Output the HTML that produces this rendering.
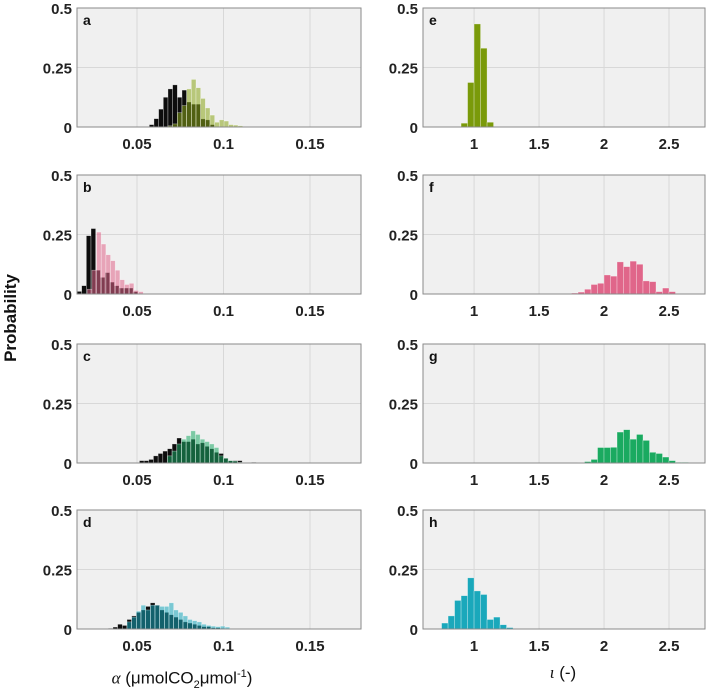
<!DOCTYPE html>
<html><head><meta charset="utf-8"><style>
body{margin:0;background:#fff;}
svg{display:block;font-family:"Liberation Sans",Arial,sans-serif;}
</style></head><body>
<svg id="fig" width="709" height="692"></svg>
<script>
// ---- data ----
const leftTicks=[0.05,0.1,0.15];
const leftTickLabels=["0.05","0.1","0.15"];
const rightTicks=[1,1.5,2,2.5];
const rightTickLabels=["1","1.5","2","2.5"];
const yTicks=[0,0.25,0.5];
const yTickLabels=["0","0.25","0.5"];
const panelLetters=["a","b","c","d","e","f","g","h"];
const panelColors=["#8aa51a","#e0668a","#1eaa66","#1aa8bb","#7a9a0a","#e0668a","#1aaa60","#1aa8bb"];
const aBlackStart=0.0571, aBlackWidth=0.0027;
const aBlack=[0.01,0.035,0.075,0.125,0.16,0.177,0.125,0.155,0.105,0.096,0.096,0.034,0.03,0.01];
const aColStart=0.0679, aColWidth=0.0027;
const aCol=[0.005,0.013,0.06,0.09,0.16,0.2,0.165,0.12,0.08,0.05,0.02,0.03,0.025,0.01,0.008,0.005];
const bBlackStart=0.0153, bBlackWidth=0.0027;
const bBlack=[0.011,0.035,0.245,0.275,0.1,0.07,0.09,0.05,0.035,0.025,0.025,0.025,0.01];
const bColStart=0.0212, bColWidth=0.0027;
const bCol=[0.02,0.1,0.26,0.21,0.165,0.14,0.1,0.06,0.04,0.045,0.015,0.01];
const cBlackStart=0.0514, cBlackWidth=0.0027;
const cBlack=[0.01,0.01,0.015,0.03,0.04,0.05,0.06,0.08,0.105,0.09,0.09,0.1,0.08,0.085,0.07,0.06,0.045,0.04,0.02,0.01,0.01,0.01,0,0,0.003];
const cColStart=0.0676, cColWidth=0.0027;
const cCol=[0.03,0.05,0.08,0.1,0.115,0.135,0.12,0.1,0.09,0.08,0.065,0.03,0.02,0.01,0.008,0.003];
const dBlackStart=0.0334, dBlackWidth=0.0027;
const dBlack=[0.003,0.008,0.02,0.015,0.04,0.055,0.07,0.08,0.095,0.11,0.1,0.08,0.07,0.06,0.05,0.04,0.03,0.025,0.02,0.015,0.01,0.01,0.005,0.005,0.003];
const dColStart=0.0442, dColWidth=0.0027;
const dCol=[0.03,0.05,0.075,0.1,0.08,0.1,0.1,0.095,0.095,0.11,0.08,0.07,0.055,0.04,0.035,0.03,0.02,0.015,0.012,0.01,0.012,0.008];
const eStart=0.9, eWidth=0.05;
const eVals=[0.016,0.187,0.433,0.331,0.02];
const fStart=1.75, fWidth=0.05;
const fVals=[0.004,0.008,0.02,0.04,0.045,0.08,0.075,0.135,0.115,0.138,0.125,0.055,0.052,0.01,0.025,0.01];
const gStart=1.8, gWidth=0.05;
const gVals=[0.002,0.006,0.015,0.065,0.065,0.066,0.13,0.14,0.1,0.12,0.095,0.045,0.04,0.025,0.01,0.003,0.003];
const hStart=0.75, hWidth=0.05;
const hVals=[0.025,0.055,0.12,0.14,0.215,0.16,0.145,0.04,0.05,0.018,0.006];

const NS="http://www.w3.org/2000/svg";
const svg=document.getElementById('fig');
const tops=[8,175,344,510], H=119;
const L={x0:77,x1:361,min:0.0153,max:0.1795};
const R={x0:423,x1:705,min:0.607,max:2.777};
function mk(tag,attrs,parent){const e=document.createElementNS(NS,tag);for(const k in attrs)e.setAttribute(k,attrs[k]);(parent||svg).appendChild(e);return e;}
function xScale(ax,v){return ax.x0+(v-ax.min)/(ax.max-ax.min)*(ax.x1-ax.x0);}
function yScale(top,v){return top+H-v/0.5*H;}

function drawAxes(ax,top,idx,ticks,tickLabels){
  const g=mk('g',{});
  
  
  const bg=mk('rect',{x:ax.x0,y:top,width:ax.x1-ax.x0,height:H,fill:'#f0f0f0'},g);
  
  
  ticks.forEach((t,i)=>{
    const x=xScale(ax,t);
    const gl=mk('line',{x1:x,x2:x,y1:top,y2:top+H,stroke:'#d8d8d8','stroke-width':1},g);
    
    
    const tl=mk('text',{x:x,y:top+H+22,'text-anchor':'middle','font-size':15,'font-weight':'bold',fill:'#222'},g);
    tl.textContent=tickLabels[i];
    
    
  });
  yTicks.forEach((t,i)=>{
    const y=yScale(top,t);
    if(t>0&&t<0.5){const gl=mk('line',{x1:ax.x0,x2:ax.x1,y1:y,y2:y,stroke:'#d8d8d8','stroke-width':1},g);
      
      }
    const tl=mk('text',{x:ax.x0-5,y:y+6,'text-anchor':'end','font-size':15,'font-weight':'bold',fill:'#222'},g);
    tl.textContent=yTickLabels[i];
    
    
  });
  return g;
}
function drawBars(ax,top,g,start,width,vals,fill,op,name){
  vals.forEach((v,i)=>{
    if(v<=0)return;
    const xa=xScale(ax,start+i*width), xb=xScale(ax,start+(i+1)*width);
    const y=yScale(top,v);
    const r=mk('rect',{x:xa,y:y,width:xb-xa,height:top+H-y,fill:fill,'fill-opacity':op,stroke:'#ffffff','stroke-opacity':0.5,'stroke-width':0.6},g);
    
    
  });
}
function frame(ax,top,g,letter){
  const f=mk('rect',{x:ax.x0,y:top,width:ax.x1-ax.x0,height:H,fill:'none',stroke:'#8a8a8a','stroke-width':1},g);
  
  
  const t=mk('text',{x:ax.x0+6,y:top+17,'font-size':14,'font-weight':'bold',fill:'#111'},g);
  t.textContent=letter;
  
  
}
const leftSets=[[aBlackStart,aBlackWidth,aBlack,aColStart,aColWidth,aCol],[bBlackStart,bBlackWidth,bBlack,bColStart,bColWidth,bCol],[cBlackStart,cBlackWidth,cBlack,cColStart,cColWidth,cCol],[dBlackStart,dBlackWidth,dBlack,dColStart,dColWidth,dCol]];
leftSets.forEach((s,i)=>{
  const g=drawAxes(L,tops[i],i,leftTicks,leftTickLabels);
  drawBars(L,tops[i],g,s[0],s[1],s[2],'#000',0.95,'reference-bar');
  drawBars(L,tops[i],g,s[3],s[4],s[5],panelColors[i],0.55,'posterior-bar');
  frame(L,tops[i],g,panelLetters[i]);
});
const rightSets=[[eStart,eWidth,eVals],[fStart,fWidth,fVals],[gStart,gWidth,gVals],[hStart,hWidth,hVals]];
rightSets.forEach((s,i)=>{
  const g=drawAxes(R,tops[i],i+4,rightTicks,rightTickLabels);
  drawBars(R,tops[i],g,s[0],s[1],s[2],panelColors[i+4],1,'iota-bar');
  frame(R,tops[i],g,panelLetters[i+4]);
});
const yl=mk('text',{transform:'translate(16,318) rotate(-90)','text-anchor':'middle','font-size':17,'font-weight':'bold',fill:'#111'});
yl.textContent='Probability';


</script>
<div style="position:absolute;left:0;top:0;width:709px;height:692px;pointer-events:none;">
<div style="position:absolute;left:102px;top:664px;width:160px;text-align:center;font:17px 'Liberation Sans',sans-serif;color:#111;white-space:nowrap;line-height:20px;"><i style="font-family:'Liberation Serif',serif;">α</i> (μmolCO<sub style="font-size:11px">2</sub>μmol<sup style="font-size:11px">-1</sup>)</div>
<div style="position:absolute;left:528px;top:663px;width:70px;text-align:center;font:17px 'Liberation Sans',sans-serif;color:#111;line-height:20px;"><i style="font-family:'Liberation Serif',serif;">ι</i> (-)</div>
</div>
</body></html>
